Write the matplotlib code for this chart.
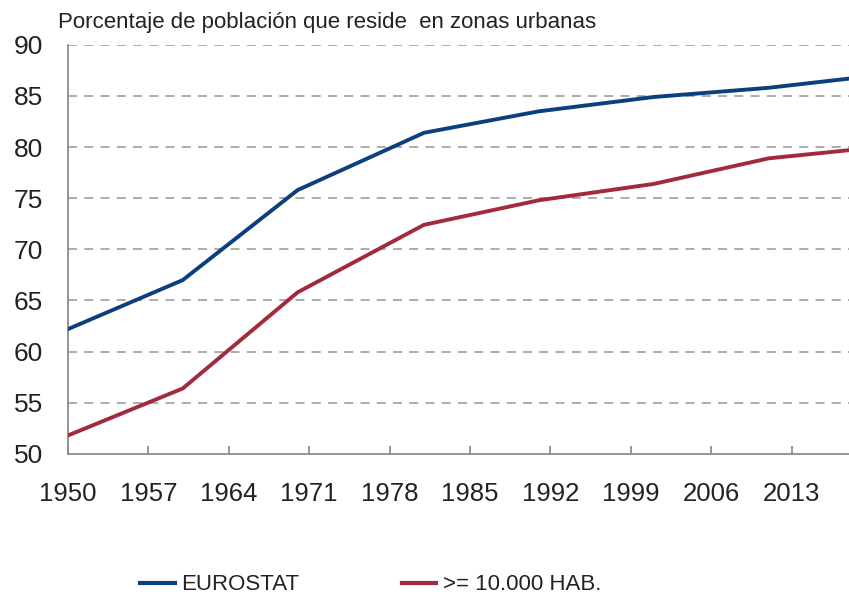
import matplotlib.pyplot as plt
from matplotlib.lines import Line2D

# Census years and urban population share (%)
years = [1950, 1960, 1970, 1981, 1991, 2001, 2011, 2018]
eurostat = [62.2, 67.0, 75.8, 81.4, 83.5, 84.9, 85.8, 86.7]
hab_10000 = [51.8, 56.4, 65.8, 72.4, 74.8, 76.4, 78.9, 79.7]

xticks = [1950, 1957, 1964, 1971, 1978, 1985, 1992, 1999, 2006, 2013]
yticks = [50, 55, 60, 65, 70, 75, 80, 85, 90]

blue = '#0b3f7e'
red = '#a32a3c'
grey = '#8c8c8c'

plt.rcParams['font.family'] = ['Liberation Sans', 'DejaVu Sans']

fig = plt.figure(figsize=(8.49, 5.98), dpi=100)
ax = fig.add_axes([0.080, 0.241, 0.920, 0.684])

ax.plot(years, eurostat, color=blue, lw=2.8, solid_joinstyle='miter', zorder=3)
ax.plot(years, hab_10000, color=red, lw=2.8, solid_joinstyle='miter', zorder=3)

ax.set_xlim(1950, 2018)
ax.set_ylim(50, 90)
ax.set_xticks(xticks)
ax.set_yticks(yticks)

for y in yticks[1:]:
    ax.axhline(y, color='#a6a6a6', lw=1.3, ls=(0, (5, 4)), zorder=1)

for side in ['top', 'right']:
    ax.spines[side].set_visible(False)
for side in ['left', 'bottom']:
    ax.spines[side].set_color(grey)
    ax.spines[side].set_linewidth(1.3)

ax.tick_params(axis='x', direction='in', length=6, width=1.3, color=grey,
               labelsize=18.5, pad=20, labelcolor='#222222')
ax.tick_params(axis='y', length=0, labelsize=19, pad=18, labelcolor='#222222')

fig.text(0.068, 0.962, 'Porcentaje de población que reside  en zonas urbanas',
         fontsize=16, color='#222222', va='center', ha='left')

handles = [Line2D([], [], color=blue, lw=3),
           Line2D([], [], color=red, lw=3)]
fig.legend(handles, ['EUROSTAT', '>= 10.000 HAB.'], ncol=2,
           loc='center left', bbox_to_anchor=(0.165, 0.022), frameon=False,
           prop={'size': 16}, labelcolor='#222222',
           handlelength=1.55, handletextpad=0.3, columnspacing=4.6,
           borderpad=0, borderaxespad=0)

fig.savefig('out.png', dpi=100)
